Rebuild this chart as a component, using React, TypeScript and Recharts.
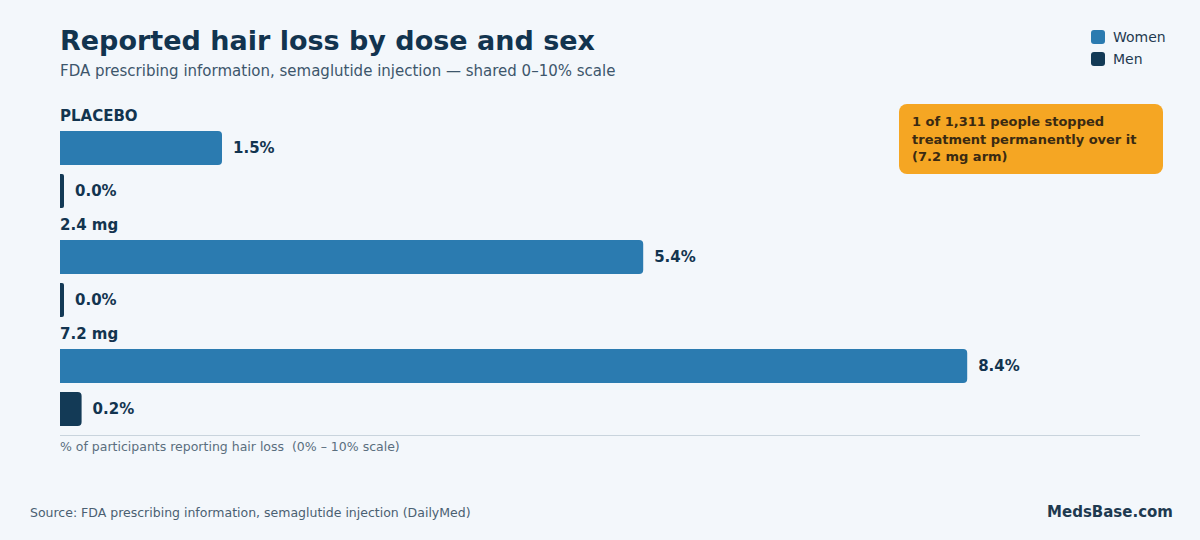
import React from 'react';
import { BarChart, Bar, XAxis, YAxis, LabelList } from 'recharts';

const doses = ['PLACEBO', '2.4 mg', '7.2 mg'];
const women = [1.5, 5.4, 8.4];
const men = [0.0, 0.0, 0.2];

const WOMEN_COLOR = '#2b7bb0';
const MEN_COLOR = '#133a56';
const INK = '#12344f';
const FONT = '"DejaVu Sans", sans-serif';

const data = doses.map((dose, i) => ({ dose, women: women[i], men: men[i] }));

const fmt = (v: number) => `${Number(v).toFixed(1)}%`;

// dose heading drawn just above the women bar of each group
const GroupHeading = (props: any) => {
  const { x, y, value } = props;
  return (
    <text x={x} y={y - 10} fill={INK} fontSize={15} fontWeight={700} fontFamily={FONT}>
      {value}
    </text>
  );
};

const LegendItem: React.FC<{ color: string; label: string; top: number }> = ({ color, label, top }) => (
  <div style={{ position: 'absolute', left: 1091, top, display: 'flex', alignItems: 'center' }}>
    <div style={{ width: 14, height: 14, borderRadius: 3, background: color }} />
    <span style={{ marginLeft: 8, fontSize: 14, color: '#1f3a50' }}>{label}</span>
  </div>
);

const App: React.FC = () => {
  return (
    <div
      style={{
        position: 'absolute',
        left: 0,
        top: 0,
        width: 1200,
        height: 540,
        background: '#f3f7fb',
        fontFamily: FONT,
        overflow: 'hidden',
      }}
    >
      <div style={{ position: 'absolute', left: 60, top: 25, fontSize: 27, fontWeight: 700, color: INK }}>
        Reported hair loss by dose and sex
      </div>
      <div style={{ position: 'absolute', left: 60, top: 62, fontSize: 15, color: '#3d566b' }}>
        FDA prescribing information, semaglutide injection — shared 0–10% scale
      </div>

      <LegendItem color={WOMEN_COLOR} label="Women" top={29} />
      <LegendItem color={MEN_COLOR} label="Men" top={51} />

      <div
        style={{
          position: 'absolute',
          left: 899,
          top: 104,
          width: 264,
          height: 70,
          boxSizing: 'border-box',
          padding: '9px 13px',
          borderRadius: 8,
          background: '#f5a623',
          color: '#3a2a12',
          fontSize: 13,
          fontWeight: 700,
          lineHeight: '17.5px',
        }}
      >
        1 of 1,311 people stopped treatment permanently over it (7.2 mg arm)
      </div>

      <div style={{ position: 'absolute', left: 0, top: 0 }}>
        <BarChart
          width={1200}
          height={460}
          data={data}
          layout="vertical"
          margin={{ top: 115, right: 60, bottom: 18, left: 60 }}
          barSize={34}
          barGap={9}
        >
          <XAxis type="number" domain={[0, 10]} hide />
          <YAxis type="category" dataKey="dose" hide />
          <Bar dataKey="women" fill={WOMEN_COLOR} radius={[0, 4, 4, 0]} isAnimationActive={false}>
            <LabelList dataKey="dose" content={<GroupHeading />} />
            <LabelList
              dataKey="women"
              position="right"
              offset={11}
              formatter={fmt}
              fill={INK}
              fontSize={15}
              fontWeight={700}
              fontFamily={FONT}
            />
          </Bar>
          <Bar dataKey="men" fill={MEN_COLOR} radius={[0, 4, 4, 0]} minPointSize={4} isAnimationActive={false}>
            <LabelList
              dataKey="men"
              position="right"
              offset={11}
              formatter={fmt}
              fill={INK}
              fontSize={15}
              fontWeight={700}
              fontFamily={FONT}
            />
          </Bar>
        </BarChart>
      </div>

      <div style={{ position: 'absolute', left: 60, top: 435, width: 1080, height: 1, background: '#c9d4dd' }} />
      <div style={{ position: 'absolute', left: 60, top: 439, fontSize: 12.5, color: '#5a6e7e', whiteSpace: 'pre' }}>
        {'% of participants reporting hair loss  (0% – 10% scale)'}
      </div>

      <div style={{ position: 'absolute', left: 30, top: 505, fontSize: 12.5, color: '#4a6072' }}>
        Source: FDA prescribing information, semaglutide injection (DailyMed)
      </div>
      <div style={{ position: 'absolute', right: 27, top: 503, fontSize: 15, fontWeight: 700, color: '#1e3a50' }}>
        MedsBase.com
      </div>
    </div>
  );
};

export default App;
